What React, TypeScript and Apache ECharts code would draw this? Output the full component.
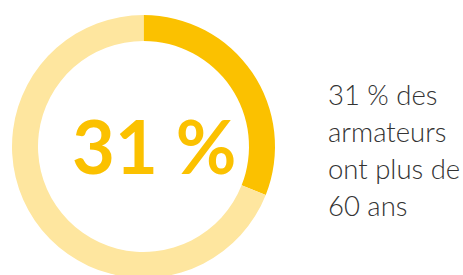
import React, { useEffect, useRef } from "react";
import * as echarts from "echarts";

const categories = ["Plus de 60 ans", "Autres"];
const values = [31, 69];
const colors = ["#FBC100", "#FEE69F"];
const sideLines = ["31 % des", "armateurs", "ont plus de", "60 ans"];
const centerLabel = `${values[0]} %`;

export default function App() {
  const ref = useRef<HTMLDivElement>(null);
  useEffect(() => {
    if (!ref.current) return;
    const chart = echarts.init(ref.current, null, { renderer: "svg" });
    const tops = [80, 117, 154, 191];
    chart.setOption({
      animation: false,
      backgroundColor: "#ffffff",
      series: [
        {
          type: "pie",
          center: [143.5, 146.5],
          radius: [105.5, 131.5],
          startAngle: 90,
          clockwise: true,
          silent: true,
          label: { show: false },
          labelLine: { show: false },
          itemStyle: { borderWidth: 0 },
          data: categories.map((name, i) => ({
            name,
            value: values[i],
            itemStyle: { color: colors[i] },
          })),
        },
      ],
      graphic: [
        {
          type: "text",
          x: 72,
          y: 182,
          style: {
            text: centerLabel,
            fill: colors[0],
            font: "bold 74px Lato",
            align: "left",
            verticalAlign: "bottom",
          },
        },
        ...sideLines.map((t, i) => ({
          type: "text",
          x: 328,
          y: tops[i],
          style: {
            text: t,
            fill: "#333333",
            font: "300 27.5px Lato",
            align: "left",
            verticalAlign: "top",
          },
        })),
      ],
    });
    return () => chart.dispose();
  }, []);
  return (
    <div
      ref={ref}
      style={{ position: "fixed", left: 0, top: 0, width: 463, height: 275 }}
    />
  );
}
